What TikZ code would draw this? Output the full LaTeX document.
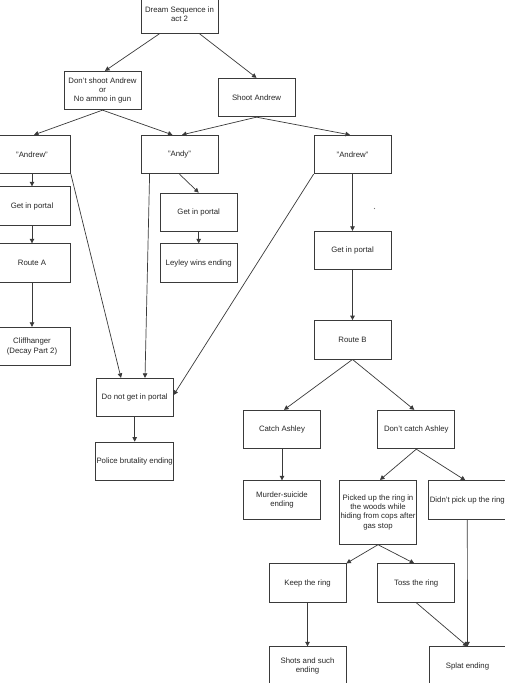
\documentclass[tikz,border=0pt]{standalone}
\usepackage{fontspec}
\setmainfont{Liberation Sans}
\usetikzlibrary{arrows.meta}
\definecolor{linegray}{HTML}{3A3A3A}
\definecolor{textgray}{HTML}{262626}
\begin{document}
\begin{tikzpicture}[x=1pt,y=-1pt,
  box/.style={draw=linegray, line width=0.8pt, fill=white, minimum width=77pt, minimum height=38.5pt,
    inner sep=1pt, align=center, text=textgray, font=\fontsize{7.8}{9.3}\selectfont},
  tallbox/.style={box, minimum height=64pt},
  arr/.style={draw=linegray, line width=0.7pt, -{Triangle[length=4.5pt,width=4.5pt]}}]
\fill[white] (0,0) rectangle (504,683);
\useasboundingbox (0,0) rectangle (504,683);
% nodes
\node[box] (top) at (179.5,14) {Dream Sequence in\\act 2};
\node[box] (dont) at (102.5,90.5) {Don't shoot Andrew\\or\\No ammo in gun};
\node[box] (shoot) at (256.5,97.5) {Shoot Andrew};
\node[box] (andrewL) at (32,154.5) {"Andrew"};
\node[box] (andy) at (179.5,154.5) {"Andy"};
\node[box] (andrewR) at (352.5,154.5) {"Andrew"};
\node[box] (gipL) at (32,206) {Get in portal};
\node[box] (routeA) at (32,263) {Route A};
\node[box] (cliff) at (32,346.5) {Cliffhanger\\(Decay Part 2)};
\node[box] (gipM) at (198.7,212.3) {Get in portal};
\node[box] (leyley) at (198.7,263) {Leyley wins ending};
\node[box] (gipR) at (352.5,250.5) {Get in portal};
\node[box] (routeB) at (352.5,339.8) {Route B};
\node[box] (notgip) at (134.7,397.5) {Do not get in portal};
\node[box] (police) at (134.7,461.3) {Police brutality ending};
\node[box] (catch) at (282,429.5) {Catch Ashley};
\node[box] (dontcatch) at (416.3,429.5) {Don't catch Ashley};
\node[box] (murder) at (282,500) {Murder-suicide\\ending};
\node[tallbox] (picked) at (378,512.3) {Picked up the ring in\\the woods while\\hiding from cops after\\gas stop};
\node[box] (didnt) at (467.3,500) {Didn't pick up the ring};
\node[box] (keep) at (307.5,583) {Keep the ring};
\node[box] (toss) at (416.2,583) {Toss the ring};
\node[box] (shots) at (307.5,666) {Shots and such\\ending};
\node[box] (splat) at (467.5,666) {Splat ending};
\fill[linegray!70] (374.5,208.5) circle (0.6pt);
% connectors
\draw[arr] ([xshift=19pt]top.south west) -- ([xshift=2.5pt]dont.north);
\draw[arr] ([xshift=-19pt]top.south east) -- (shoot.north);
\draw[arr] (dont.south) -- ([xshift=2pt]andrewL.north);
\draw[arr] (dont.south) -- ([xshift=-7pt]andy.north);
\draw[arr] (shoot.south) -- ([xshift=2.5pt]andy.north);
\draw[arr] (shoot.south) -- ([xshift=-2.5pt]andrewR.north);
\draw[arr] (andrewL.south) -- (gipL.north);
\draw[arr] (andrewL.south east) -- ([xshift=-13.7pt]notgip.north);
\draw[arr] ([xshift=9pt]andy.south west) -- ([xshift=10.3pt]notgip.north);
\draw[arr] (andy.south) -- (gipM.north);
\draw[arr] (gipM.south) -- (leyley.north);
\draw[arr] (andrewR.south west) -- ([yshift=2.5pt]notgip.east);
\draw[arr] (andrewR.south) -- (gipR.north);
\draw[arr] (gipL.south) -- (routeA.north);
\draw[arr] (routeA.south) -- (cliff.north);
\draw[arr] (notgip.south) -- (police.north);
\draw[arr] (gipR.south) -- (routeB.north);
\draw[arr] (routeB.south) -- ([xshift=2pt]catch.north);
\draw[arr] (routeB.south) -- ([xshift=-2pt]dontcatch.north);
\draw[arr] (catch.south) -- (murder.north);
\draw[arr] (dontcatch.south) -- ([xshift=2pt]picked.north);
\draw[arr] (dontcatch.south) -- ([xshift=-2pt]didnt.north);
\draw[arr] (picked.south) -- (keep.north east);
\draw[arr] (picked.south) -- ([xshift=-2pt]toss.north);
\draw[arr] (keep.south) -- (shots.north);
\draw[arr] (toss.south) -- (splat.north);
\draw[arr] (didnt.south) -- (splat.north);
\end{tikzpicture}
\end{document}
